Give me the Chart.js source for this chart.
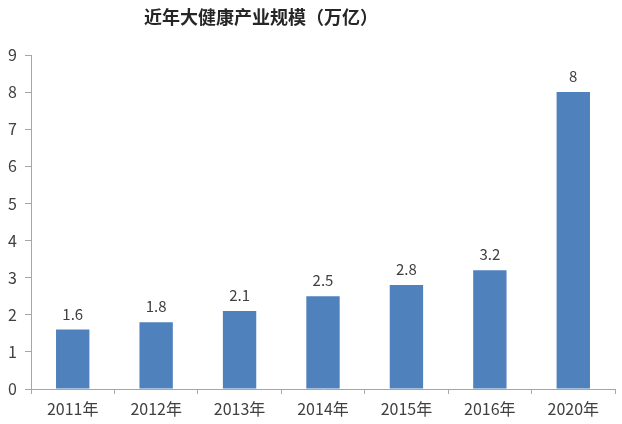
<!DOCTYPE html>
<html>
<head>
<meta charset="utf-8">
<script src="https://cdn.jsdelivr.net/npm/chart.js@4"></script>
<style>
  html, body { margin: 0; padding: 0; background: #fff; }
  #wrap { position: relative; width: 622px; height: 424px; }
</style>
</head>
<body>
<div id="wrap"><canvas id="bar-chart" width="622" height="424"></canvas></div>
<script>
const years = ["2011年", "2012年", "2013年", "2014年", "2015年", "2016年", "2020年"];
const scale = [1.6, 1.8, 2.1, 2.5, 2.8, 3.2, 8];
const yTicks = [0, 1, 2, 3, 4, 5, 6, 7, 8, 9];
const chartTitle = "近年大健康产业规模（万亿）";

const FONT = "'Noto Sans CJK SC', 'Noto Sans', sans-serif";
const textColor = "#404040";
const axisColor = "#a6a6a6";

// title sits a bit left of centre, like the original
const titlePlugin = {
  id: "titleText",
  afterDraw(chart) {
    const ctx = chart.ctx;
    ctx.save();
    ctx.font = "bold 18px " + FONT;
    ctx.fillStyle = "#262626";
    ctx.textAlign = "center";
    ctx.textBaseline = "middle";
    ctx.fillText(chartTitle, 261, 17);
    ctx.restore();
  }
};

// value labels above each bar
const valueLabels = {
  id: "valueLabels",
  afterDatasetsDraw(chart) {
    const ctx = chart.ctx;
    const meta = chart.getDatasetMeta(0);
    ctx.save();
    ctx.font = "15px " + FONT;
    ctx.fillStyle = textColor;
    ctx.textAlign = "center";
    ctx.textBaseline = "bottom";
    meta.data.forEach((bar, i) => {
      ctx.fillText(String(scale[i]), bar.x, bar.y - 8);
    });
    ctx.restore();
  }
};

new Chart(document.getElementById("bar-chart").getContext("2d"), {
  type: "bar",
  data: {
    labels: years,
    datasets: [{
      data: scale,
      backgroundColor: "#4f81bd",
      borderWidth: 0,
      barPercentage: 0.4,
      categoryPercentage: 1
    }]
  },
  options: {
    responsive: false,
    animation: false,
    layout: { padding: { top: 55, right: 7, left: 0, bottom: 0 } },
    plugins: {
      legend: { display: false },
      tooltip: { enabled: false },
      title: { display: false }
    },
    scales: {
      x: {
        grid: { display: true, drawOnChartArea: false, offset: true, tickLength: 5, color: axisColor },
        border: { color: axisColor },
        ticks: { color: textColor, font: { family: FONT, size: 16 }, padding: 5, maxRotation: 0 },
        afterFit(s) { s.height = 35; }
      },
      y: {
        min: 0,
        max: 9,
        afterBuildTicks(s) { s.ticks = yTicks.map(v => ({ value: v })); },
        grid: { display: true, drawOnChartArea: false, tickLength: 6, color: axisColor },
        border: { color: axisColor },
        ticks: { color: textColor, font: { family: FONT, size: 16 }, padding: 8 },
        afterFit(s) { s.width = 31; }
      }
    }
  },
  plugins: [titlePlugin, valueLabels]
});
</script>
</body>
</html>
